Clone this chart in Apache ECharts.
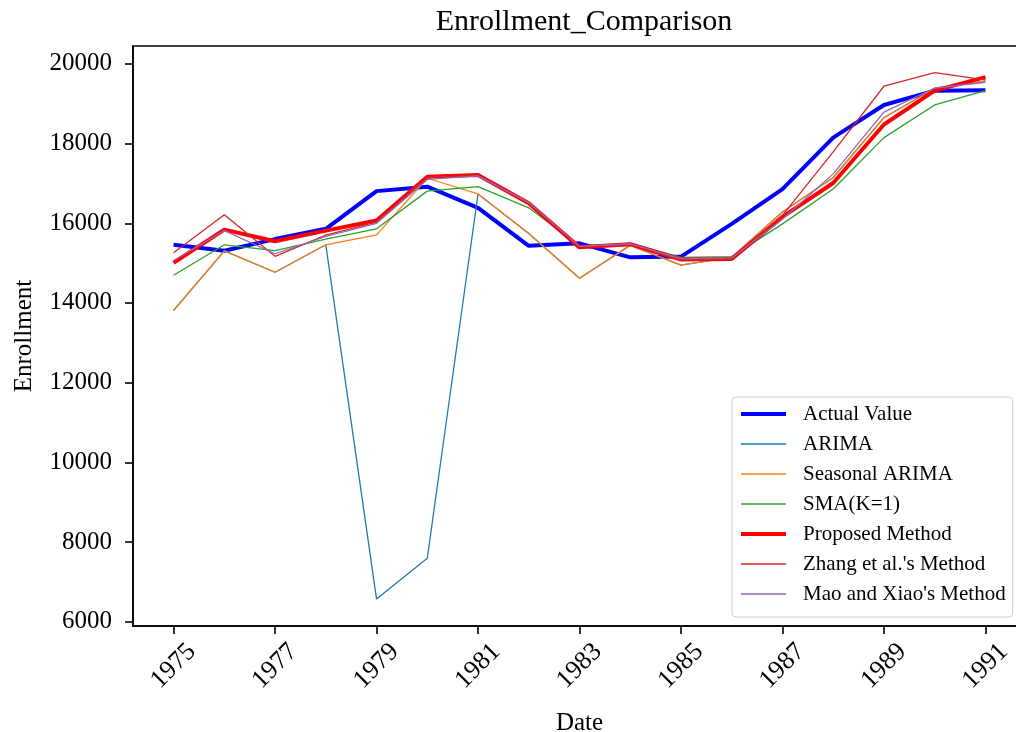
<!DOCTYPE html>
<html lang="en">
<head>
  <meta charset="UTF-8">
  <title>Enrollment_Comparison</title>
  <style>
    * { margin: 0; padding: 0; }
    html, body { width: 1016px; height: 732px; background: #fff; overflow: hidden; }
    #chart { width: 1016px; height: 732px; }
  </style>
</head>
<body>
  <div id="chart"></div>
  <script src="https://cdn.jsdelivr.net/npm/echarts@6/dist/echarts.min.js"></script>
  <script>
    // data
    const years = [1975, 1976, 1977, 1978, 1979, 1980, 1981, 1982, 1983, 1984, 1985, 1986, 1987, 1988, 1989, 1990, 1991];
    const actual   = [15460, 15311, 15603, 15861, 16807, 16919, 16388, 15433, 15497, 15145, 15163, 15984, 16859, 18150, 18970, 19328, 19337];
    const arima    = [13810, 15305, 14770, 15460, 6565, 7590, 16735, 15745, 14620, 15445, 14950, 15150, 16285, 17150, 18650, 19390, 19570];
    const seasonal = [13810, 15305, 14770, 15460, 15710, 17130, 16735, 15745, 14620, 15445, 14950, 15150, 16285, 17150, 18650, 19390, 19570];
    const sma      = [14696, 15460, 15311, 15603, 15861, 16807, 16919, 16388, 15433, 15497, 15145, 15163, 15984, 16859, 18150, 18970, 19328];
    const proposed = [15010, 15840, 15550, 15815, 16070, 17165, 17210, 16500, 15395, 15475, 15090, 15105, 16160, 17010, 18480, 19330, 19670];
    const zhang    = [15260, 16215, 15170, 15700, 16030, 17150, 17200, 16520, 15420, 15480, 15080, 15100, 16200, 17790, 19440, 19780, 19600];
    const mao      = [15065, 15815, 15235, 15670, 16000, 17100, 17190, 16520, 15420, 15480, 15110, 15130, 16100, 17240, 18790, 19395, 19540];

    const xTicks = [1975, 1977, 1979, 1981, 1983, 1985, 1987, 1989, 1991];
    const yTicks = [6000, 8000, 10000, 12000, 14000, 16000, 18000, 20000];

    const font = 'Liberation Serif';
    const chart = echarts.init(document.getElementById('chart'), null, { renderer: 'canvas' });

    function pairs(vals) {
      return years.map((y, i) => [y, vals[i]]);
    }

    const series = [
      ['Actual Value', actual, '#0000ff', 4],
      ['ARIMA', arima, '#1f77b4', 1.3],
      ['Seasonal ARIMA', seasonal, '#ff7f0e', 1.3],
      ['SMA(K=1)', sma, '#2ca02c', 1.3],
      ['Proposed Method', proposed, '#ff0000', 4],
      ["Zhang et al.'s Method", zhang, '#d62728', 1.3],
      ["Mao and Xiao's Method", mao, '#9467bd', 1.3]
    ];

    const option = {
      animation: false,
      title: {
        text: 'Enrollment_Comparison',
        left: 579,
        top: 2,
        textAlign: 'center',
        textStyle: { fontFamily: font, fontSize: 30, fontWeight: 'normal', color: '#000' }
      },
      grid: {
        left: 133, top: 46, right: -10, bottom: 106,
        outerBoundsMode: 'none',
        containLabel: false,
        show: true, borderColor: '#000', borderWidth: 1.6
      },
      legend: {
        orient: 'vertical',
        left: 732,
        top: 397,
        padding: [5, 7, 11, 7],
        itemWidth: 45,
        itemHeight: 14,
        itemGap: 6,
        itemStyle: { opacity: 0 },
        data: series.map(s => ({ name: s[0], lineStyle: { width: s[3], color: s[2] } })),
        backgroundColor: 'rgba(255,255,255,0.8)',
        borderColor: '#cccccc',
        borderWidth: 1,
        borderRadius: 4,
        textStyle: { fontFamily: font, fontSize: 21, color: '#000', lineHeight: 24, padding: [0, 0, 0, 12] }
      },
      xAxis: {
        type: 'value',
        min: 1974.2,
        max: 1991.8,
        name: 'Date',
        nameLocation: 'middle',
        nameGap: 85,
        nameTextStyle: { fontFamily: font, fontSize: 25, color: '#000' },
        axisLine: { show: true, lineStyle: { color: '#000', width: 1.6 } },
        axisTick: { show: true, length: 8, customValues: xTicks, lineStyle: { color: '#000', width: 1.6 } },
        axisLabel: {
          customValues: xTicks,
          rotate: 45,
          align: 'center',
          verticalAlign: 'middle',
          margin: 40,
          fontFamily: font,
          fontSize: 26,
          color: '#000',
          formatter: v => String(v)
        },
        splitLine: { show: false }
      },
      yAxis: {
        type: 'value',
        min: 5890,
        max: 20450,
        name: 'Enrollment',
        nameLocation: 'middle',
        nameGap: 96,
        nameTextStyle: { fontFamily: font, fontSize: 25, color: '#000' },
        axisLine: { show: true, lineStyle: { color: '#000', width: 1.6 } },
        axisTick: { show: true, length: 8, customValues: yTicks, lineStyle: { color: '#000', width: 1.6 } },
        axisLabel: {
          customValues: yTicks,
          margin: 21,
          fontFamily: font,
          fontSize: 25,
          color: '#000',
          formatter: v => String(v)
        },
        splitLine: { show: false }
      },
      series: series.map(s => ({
        name: s[0],
        type: 'line',
        data: pairs(s[1]),
        symbol: 'none',
        lineStyle: { color: s[2], width: s[3] },
        itemStyle: { color: s[2] }
      }))
    };

    chart.setOption(option);
    window.addEventListener('resize', () => chart.resize());
  </script>
</body>
</html>
